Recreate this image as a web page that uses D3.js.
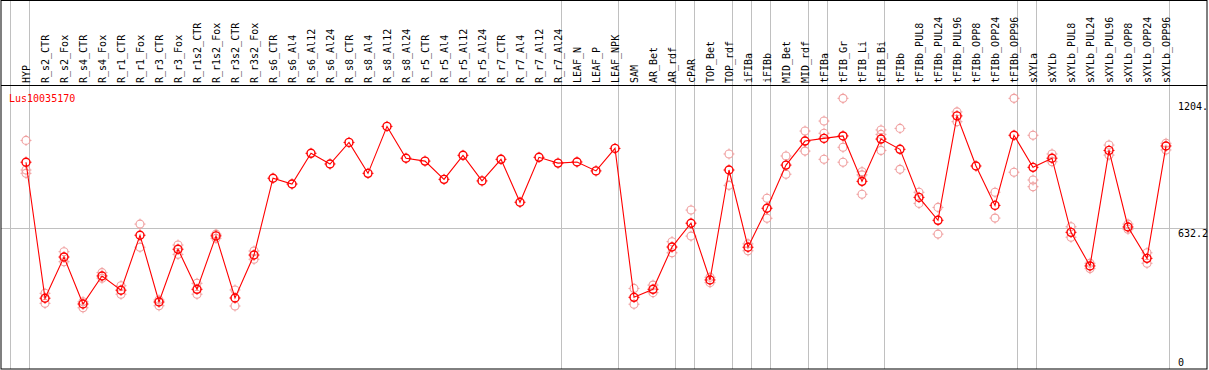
<html>
<head>
<script src="https://d3js.org/d3.v7.min.js"></script>
<style>
  body { margin: 0; background: #fff; }
  text { font-family: "DejaVu Sans Mono", monospace; font-size: 10px; }
</style>
</head>
<body>
<svg id="viz" width="1209" height="370"></svg>
<script>
  var title = "Lus10035170";

  var samples = ["HYP","R_s2_CTR","R_s2_Fox","R_s4_CTR","R_s4_Fox","R_r1_CTR","R_r1_Fox",
    "R_r3_CTR","R_r3_Fox","R_r1s2_CTR","R_r1s2_Fox","R_r3s2_CTR","R_r3s2_Fox",
    "R_s6_CTR","R_s6_Al4","R_s6_Al12","R_s6_Al24","R_s8_CTR","R_s8_Al4","R_s8_Al12","R_s8_Al24",
    "R_r5_CTR","R_r5_Al4","R_r5_Al12","R_r5_Al24","R_r7_CTR","R_r7_Al4","R_r7_Al12","R_r7_Al24",
    "LEAF_N","LEAF_P","LEAF_NPK","SAM","AR_Bet","AR_rdf","cPAR","TOP_Bet","TOP_rdf",
    "iFIBa","iFIBb","MID_Bet","MID_rdf","tFIBa","tFIB_Gr","tFIB_Li","tFIB_Bi",
    "tFIBb","tFIBb_PUL8","tFIBb_PUL24","tFIBb_PUL96","tFIBb_OPP8","tFIBb_OPP24","tFIBb_OPP96",
    "sXYLa","sXYLb","sXYLb_PUL8","sXYLb_PUL24","sXYLb_PUL96","sXYLb_OPP8","sXYLb_OPP24","sXYLb_OPP96"];

  // mean expression per sample
  var means = [929,318,503,292,418,354,601,301,538,358,598,319,512,
    857,831,969,921,1018,879,1090,947,934,852,960,845,942,749,951,925,
    930,890,991,322,358,548,655,400,894,547,722,916,1024,1036,1047,843,1033,
    987,771,668,1137,912,735,1050,906,947,614,463,982,638,497,1002];

  // individual replicates
  var reps = [[1027,894,879],[340,295],[527,482],[302,275],[433,408],[374,336],[651,547],
    [310,284],[557,515],[385,336],[606,587],[355,283],[530,493],
    [],[],[],[],[],[],[],[],[],[],[],[],[],[],[],[],
    [],[],[],[362,291],[377,343],[572,522],[714,597],[412,388],[966,825],
    [562,531],[767,677],[957,875],[1069,979],[1114,1059,942],[1216,996,929],[886,872,785],[1074,1054,982],
    [1081,897],[794,744],[726,606],[1155,1111],[],[794,678],[1216,884],
    [1050,849,819],[966,931],[639,592],[475,451],[1006,961],[651,628],[522,475],[1014,984]];

  // separators drawn before these column indices
  var groupBreaks = [0,1,29,32,35,36,38,39,40,42,43,46,53,54,61];

  var tickValues = [0, 632.2, 1204];
  var tickLabels = ["0", "632.2", "1204."];

  var svg = d3.select("#viz");
  var n = samples.length;

  var x = d3.scaleLinear().domain([0, n]).range([11, 11 + 19 * n]);
  var y = d3.scaleLinear().domain([0, 1204]).range([369, 101]);

  var grey = "#c0c0c0";

  // horizontal grid at middle tick
  svg.append("line")
    .attr("x1", 1).attr("x2", 1207)
    .attr("y1", Math.round(y(632.2)) + 0.5).attr("y2", Math.round(y(632.2)) + 0.5)
    .attr("stroke", grey);

  svg.selectAll(".sep")
    .data(groupBreaks).enter()
    .append("line")
    .attr("x1", function(d){ return Math.round(x(d)) - 0.5; })
    .attr("x2", function(d){ return Math.round(x(d)) - 0.5; })
    .attr("y1", 0).attr("y2", 369)
    .attr("stroke", grey);

  // frame
  svg.append("rect")
    .attr("x", 1).attr("y", 0.5).attr("width", 1206).attr("height", 368.5)
    .attr("fill", "none").attr("stroke", "#000");
  svg.append("line")
    .attr("x1", 1).attr("x2", 1207).attr("y1", 85.5).attr("y2", 85.5)
    .attr("stroke", "#000");

  // column labels
  svg.selectAll(".lab")
    .data(samples).enter()
    .append("text")
    .attr("transform", function(d, i){ return "translate(" + (x(i) + 18.5) + ",83) rotate(-90)"; })
    .attr("fill", "#000")
    .text(function(d){ return d; });

  svg.append("text")
    .attr("x", 9).attr("y", 101.5)
    .attr("fill", "#ff0000")
    .text(title);

  svg.selectAll(".tick")
    .data(tickValues).enter()
    .append("text")
    .attr("x", 1178)
    .attr("y", function(d){ return Math.min(y(d) + 8.5, 366); })
    .attr("fill", "#000")
    .text(function(d, i){ return tickLabels[i]; });

  function marker(g, cx, cy, col, w) {
    g.append("circle").attr("cx", cx).attr("cy", cy).attr("r", 4)
      .attr("fill", "none").attr("stroke", col).attr("stroke-width", w);
    [[0,-1],[0,1],[-1,0],[1,0]].forEach(function(o){
      g.append("line")
        .attr("x1", cx + o[0] * 3.5).attr("y1", cy + o[1] * 3.5)
        .attr("x2", cx + o[0] * 5.5).attr("y2", cy + o[1] * 5.5)
        .attr("stroke", col).attr("stroke-width", 1);
    });
  }

  var px = function(i){ return x(i) + 15; };

  var gr = svg.append("g");
  reps.forEach(function(r, i){
    r.forEach(function(v){ marker(gr, px(i), y(v), "#f0a0a0", 1.1); });
  });

  svg.append("path")
    .datum(means)
    .attr("fill", "none")
    .attr("stroke", "#ff0000")
    .attr("stroke-width", 1.1)
    .attr("d", d3.line().x(function(d, i){ return px(i); }).y(function(d){ return y(d); }));

  var gm = svg.append("g");
  means.forEach(function(v, i){ marker(gm, px(i), y(v), "#ff0000", 1.4); });
</script>
</body>
</html>
